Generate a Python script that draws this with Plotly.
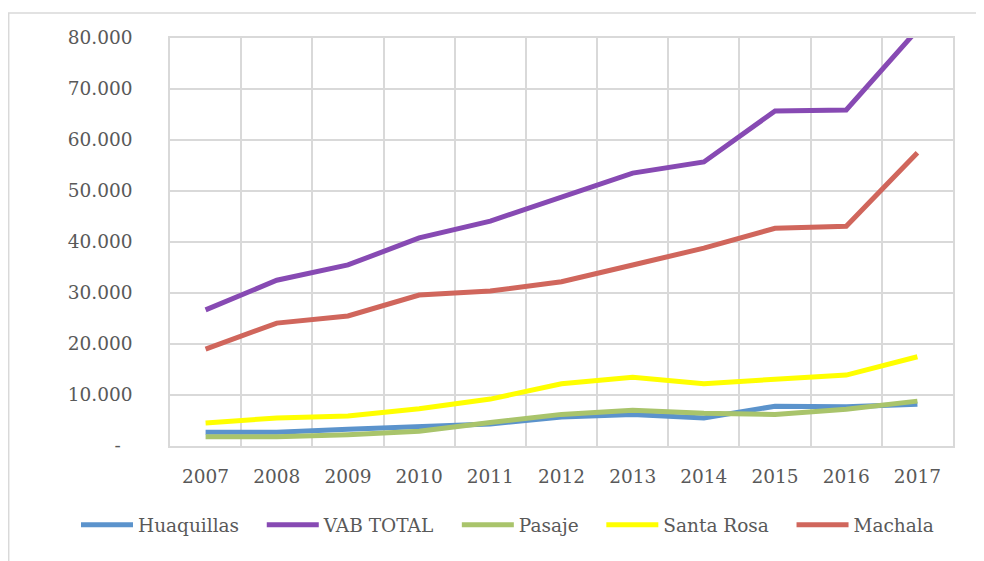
import plotly.graph_objects as go

years = ["2007", "2008", "2009", "2010", "2011", "2012", "2013", "2014", "2015", "2016", "2017"]

huaquillas = [2700, 2700, 3300, 3700, 4300, 5700, 6200, 5500, 7800, 7700, 8200]
vab_total = [26700, 32500, 35500, 40800, 44100, 48800, 53500, 55700, 65700, 65900, 81600]
pasaje = [1800, 1800, 2200, 2900, 4600, 6200, 7000, 6400, 6200, 7200, 8800]
santa_rosa = [4500, 5500, 5900, 7300, 9200, 12200, 13500, 12200, 13100, 13900, 17500]
machala = [19000, 24100, 25500, 29600, 30400, 32200, 35500, 38800, 42700, 43100, 57500]

y_tickvals = [0, 10000, 20000, 30000, 40000, 50000, 60000, 70000, 80000]
y_ticktext = ["-\u00a0\u00a0", "10.000", "20.000", "30.000", "40.000", "50.000", "60.000", "70.000", "80.000"]

series = [
    ("Huaquillas", huaquillas, "#5B93CC"),
    ("VAB TOTAL", vab_total, "#874AB3"),
    ("Pasaje", pasaje, "#A9C46B"),
    ("Santa Rosa", santa_rosa, "#FFFF00"),
    ("Machala", machala, "#D0665C"),
]

pad = "\u00a0" * 3

fig = go.Figure()
for name, vals, col in series:
    fig.add_trace(go.Scatter(x=years, y=vals, name=name + pad, mode="lines",
                             line=dict(color=col, width=5)))

font = dict(family="DejaVu Serif", size=18.5, color="#595959")
grid = "#D9D9D9"

W, H = 976, 553
L, T, PW, PH = 162, 30, 783, 408

fig.update_layout(
    width=W, height=H,
    margin=dict(l=L, r=W - L - PW, t=T, b=H - T - PH),
    paper_bgcolor="white", plot_bgcolor="white",
    font=font,
    showlegend=True,
    legend=dict(orientation="h", x=(84 - 8 - 170) / PW, xanchor="left", y=-0.194, yanchor="middle",
                font=font, traceorder="normal", itemwidth=52),
    xaxis=dict(type="category", range=[-0.5, len(years) - 0.5], tickson="boundaries",
               showgrid=True, gridcolor=grid, gridwidth=1.5,
               showline=True, linecolor=grid, linewidth=1.5, mirror=True,
               ticks="", tickfont=font, ticklabelstandoff=13, automargin=False),
    yaxis=dict(range=[0, 80000], tickvals=y_tickvals, ticktext=y_ticktext,
               showgrid=True, gridcolor=grid, gridwidth=1.5, zeroline=False,
               showline=True, linecolor=grid, linewidth=1.5, mirror=True,
               ticks="", tickfont=font, ticklabelstandoff=32, automargin=False),
    shapes=[dict(type="rect", xref="paper", yref="paper",
                 x0=-0.206, x1=1.06, y0=-0.35, y1=(446 - 13) / 408,
                 line=dict(color=grid, width=1.5), layer="below")],
)

fig.write_html("out.html")
